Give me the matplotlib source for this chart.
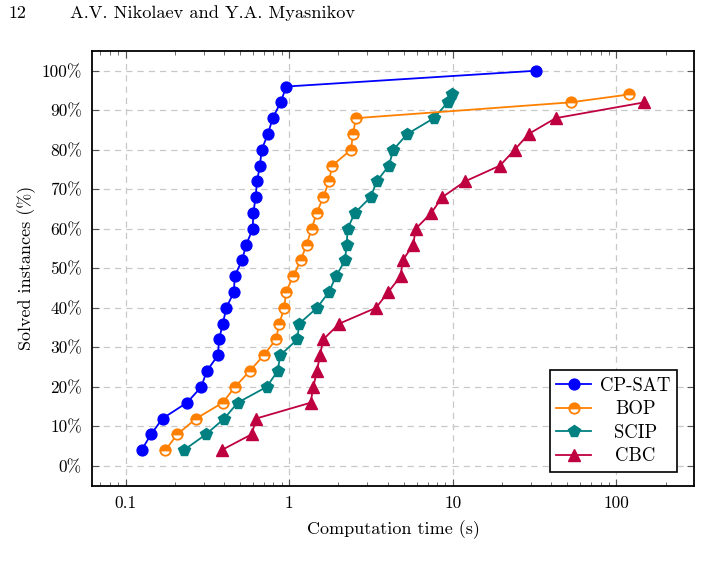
import matplotlib
matplotlib.use('Agg')
import matplotlib.pyplot as plt
import matplotlib.transforms as mtransforms
from matplotlib.ticker import FixedLocator, LogLocator, NullFormatter

plt.rcParams['font.family'] = ['cmr10', 'DejaVu Serif']
plt.rcParams['axes.formatter.use_mathtext'] = True

# Data (time in s, share of solved instances in %)
cpsat_t = [0.125, 0.143, 0.168, 0.237, 0.290, 0.313, 0.367, 0.372, 0.393, 0.412,
           0.459, 0.464, 0.514, 0.546, 0.598, 0.603, 0.623, 0.635, 0.662, 0.678,
           0.741, 0.792, 0.886, 0.959, 32.2]
cpsat_y = [4, 8, 12, 16, 20, 24, 28, 32, 36, 40, 44, 48, 52, 56, 60, 64, 68, 72,
           76, 80, 84, 88, 92, 96, 100]

bop_t = [0.175, 0.207, 0.270, 0.392, 0.466, 0.573, 0.698, 0.829, 0.869, 0.932,
         0.955, 1.058, 1.174, 1.277, 1.370, 1.471, 1.614, 1.748, 1.831, 2.384,
         2.451, 2.557, 52.5, 119.7]
bop_y = [4, 8, 12, 16, 20, 24, 28, 32, 36, 40, 44, 48, 52, 56, 60, 64, 68, 72,
         76, 80, 84, 88, 92, 94]

scip_t = [0.227, 0.310, 0.401, 0.484, 0.728, 0.849, 0.881, 1.119, 1.151, 1.477,
          1.748, 1.930, 2.191, 2.243, 2.275, 2.511, 3.145, 3.422, 4.069, 4.323,
          5.264, 7.664, 9.295, 9.83]
scip_y = [4, 8, 12, 16, 20, 24, 28, 32, 36, 40, 44, 48, 52, 56, 60, 64, 68, 72,
          76, 80, 84, 88, 92, 94]

cbc_t = [0.386, 0.589, 0.629, 1.352, 1.402, 1.477, 1.541, 1.614, 2.021, 3.388,
         4.029, 4.797, 4.934, 5.728, 5.925, 7.379, 8.614, 11.86, 19.41, 23.86,
         29.07, 42.50, 147.9]
cbc_y = [4, 8, 12, 16, 20, 24, 28, 32, 36, 40, 44, 48, 52, 56, 60, 64, 68, 72,
         76, 80, 84, 88, 92]

x_ticks = [0.1, 1, 10, 100]
x_tick_labels = ['0.1', '1', '10', '100']
y_ticks = list(range(0, 101, 10))
y_tick_labels = [f'{v}%' for v in y_ticks]

fig = plt.figure(figsize=(7.02, 5.76), dpi=100)
ax = fig.add_axes([0.1306, 0.1568, 0.8584, 0.7547])

ax.plot(cpsat_t, cpsat_y, color='#0000FF', lw=1.3, marker='o', ms=7.8,
        mfc='#0000FF', mec='#0000FF', label='CP-SAT', zorder=5)
ax.plot(bop_t, bop_y, color='#FF8000', lw=1.3, marker='o', ms=7.5,
        fillstyle='top', mfc='#FF8000', mfcalt='white', mec='#FF8000', mew=1.3,
        label='BOP', zorder=4)
ax.plot(scip_t, scip_y, color='#008080', lw=1.3, marker='p', ms=8.5,
        mfc='#008080', mec='#008080', label='SCIP', zorder=3)
ax.plot(cbc_t, cbc_y, color='#BF0040', lw=1.3, marker='^', ms=8,
        mfc='#BF0040', mec='#BF0040', label='CBC', zorder=2)

ax.set_xscale('log')
ax.set_xlim(0.062, 299)
ax.set_ylim(-5, 105)

ax.xaxis.set_major_locator(FixedLocator(x_ticks))
ax.set_xticklabels(x_tick_labels)
ax.xaxis.set_minor_locator(LogLocator(base=10, subs=range(2, 10), numticks=20))
ax.xaxis.set_minor_formatter(NullFormatter())
ax.set_yticks(y_ticks)
ax.set_yticklabels(y_tick_labels)

ax.tick_params(which='both', direction='in', top=True, right=True,
               labelsize=12.5, color='#555555')
ax.tick_params(which='major', length=5, width=0.8, pad=7)
ax.tick_params(which='minor', length=3, width=0.6)

ax.grid(True, which='major', linestyle=(0, (5, 4)), color='#c8c8c8', lw=0.9)
ax.set_axisbelow(True)
for s in ax.spines.values():
    s.set_linewidth(1.3)

ax.set_xlabel('Computation time (s)', fontsize=13, labelpad=7)
ax.set_ylabel('Solved instances (%)', fontsize=13, labelpad=4)

leg = ax.legend(loc='lower right', bbox_to_anchor=(0.972, 0.032), fontsize=13.5,
                fancybox=False, framealpha=1, edgecolor='black',
                handlelength=1.85, borderpad=0.35, labelspacing=0.3,
                handletextpad=0.5, borderaxespad=0)
leg.get_frame().set_linewidth(1.2)

# center the legend labels like pgfplots does
fig.canvas.draw()
renderer = fig.canvas.get_renderer()
texts = leg.get_texts()
widths = [t.get_window_extent(renderer).width for t in texts]
wmax = max(widths)
for t, w in zip(texts, widths):
    dx = (wmax - w) / 2
    t.set_transform(t.get_transform() + mtransforms.Affine2D().translate(dx, 0))

# page header
fig.text(8 / 702, 1 - 13 / 576, '12', fontsize=13, va='center', ha='left')
fig.text(70 / 702, 1 - 13 / 576, 'A.V. Nikolaev and Y.A. Myasnikov', fontsize=13.2,
         va='center', ha='left')

fig.savefig('out.png', dpi=100)
